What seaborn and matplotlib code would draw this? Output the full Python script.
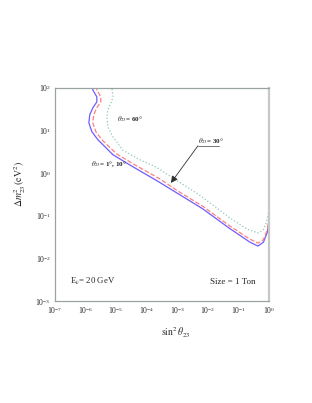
import numpy as np
import pandas as pd
import matplotlib
matplotlib.use("Agg")
import matplotlib.pyplot as plt
import seaborn as sns

# sensitivity contours as log10 values
blue_logx = [-5.78, -5.76, -5.63, -5.63, -5.76, -5.86, -5.89, -5.79, -5.59, -5.10, -4.5,
             -3.66, -3.0, -2.16, -1.28, -0.62, -0.36, -0.18, -0.05, 0.0]
blue_logy = [2.05, 1.95, 1.79, 1.67, 1.53, 1.37, 1.18, 0.97, 0.78, 0.43, 0.17,
             -0.18, -0.47, -0.84, -1.30, -1.62, -1.71, -1.62, -1.38, -1.10]
red_logx = [-5.65, -5.63, -5.50, -5.50, -5.63, -5.73, -5.76, -5.66, -5.46, -4.98, -4.4,
            -3.58, -3.0, -2.16, -1.28, -0.62, -0.36, -0.18, -0.05, 0.0]
red_logy = [2.05, 1.95, 1.79, 1.67, 1.53, 1.37, 1.18, 0.97, 0.78, 0.45, 0.20,
            -0.13, -0.41, -0.78, -1.24, -1.55, -1.64, -1.56, -1.32, -1.05]
green_logx = [-5.14, -5.13, -5.10, -5.16, -5.27, -5.30, -5.27, -5.10, -4.78, -4.3,
              -3.66, -3.0, -2.3, -1.70, -1.28, -0.7, -0.36, -0.2, -0.08, 0.0]
green_logy = [2.05, 1.95, 1.79, 1.66, 1.48, 1.32, 1.08, 0.85, 0.54, 0.34,
              0.13, -0.18, -0.50, -0.82, -1.05, -1.32, -1.40, -1.35, -1.15, -0.88]

sns.set_style("white")
plt.rcParams["font.family"] = ["Liberation Serif", "DejaVu Serif"]
plt.rcParams["mathtext.fontset"] = "stix"

fig = plt.figure(figsize=(3.12, 4.03), dpi=100)
ax = fig.add_axes([0.176, 0.253, 0.686, 0.529])

curves = [
    (blue_logx, blue_logy, "#6f5cff", "-"),
    (red_logx, red_logy, "#ff7f7f", "--"),
    (green_logx, green_logy, "#8fc9b9", ":"),
]
for lx, ly, col, ls in curves:
    df = pd.DataFrame({"x": 10 ** np.array(lx), "y": 10 ** np.array(ly)})
    sns.lineplot(data=df, x="x", y="y", sort=False, estimator=None, color=col,
                 linestyle=ls, linewidth=0.9, ax=ax)

ax.set_xscale("log")
ax.set_yscale("log")
ax.set_xlim(1e-7, 1)
ax.set_ylim(1e-3, 1e2)
ax.set_xticks([10.0 ** k for k in range(-7, 1)])
ax.set_yticks([10.0 ** k for k in range(-3, 3)])
ax.minorticks_off()
ax.tick_params(axis="both", direction="in", length=2, width=0.6, color="#8a9090",
               labelsize=5.5, pad=3)

for side in ["left", "bottom", "top"]:
    ax.spines[side].set_color("#9aa2a2")
    ax.spines[side].set_linewidth(0.9)
ax.spines["right"].set_color("#c4c8c8")
ax.spines["right"].set_linewidth(1.6)

ax.set_xlabel(r"$\sin^2\theta_{23}$", fontsize=7)
ax.xaxis.set_label_coords(0.565, -0.113)
ax.set_ylabel(r"$\Delta m^2_{23}\,(\mathrm{eV}^2)$", fontsize=7)
ax.yaxis.set_label_coords(-0.126, 0.55)

ax.text(0.29, 0.855, r"$\theta_{23}$= 60°", transform=ax.transAxes, fontsize=5,
        fontweight="bold", va="center")
ax.text(0.168, 0.644, r"$\theta_{23}$= 1°, 10°", transform=ax.transAxes, fontsize=5,
        fontweight="bold", va="center")
ax.text(0.668, 0.752, r"$\theta_{23}$= 30°", transform=ax.transAxes, fontsize=5,
        fontweight="bold", va="center")
ax.plot([0.668, 0.766], [0.728, 0.728], transform=ax.transAxes, color="#606060", lw=0.6)
ax.annotate("", xy=(0.542, 0.554), xytext=(0.668, 0.728), xycoords="axes fraction",
            textcoords="axes fraction",
            arrowprops=dict(arrowstyle="-|>,head_length=0.5,head_width=0.25",
                            color="#303030", lw=0.6, mutation_scale=8,
                            shrinkA=0, shrinkB=0))

ax.text(0.07, 0.09, r"E$_\nu$= 20 GeV", transform=ax.transAxes, fontsize=6.3, va="center")
ax.text(0.724, 0.09, "Size = 1 Ton", transform=ax.transAxes, fontsize=6.5, va="center")

fig.savefig("out.png", dpi=100)
